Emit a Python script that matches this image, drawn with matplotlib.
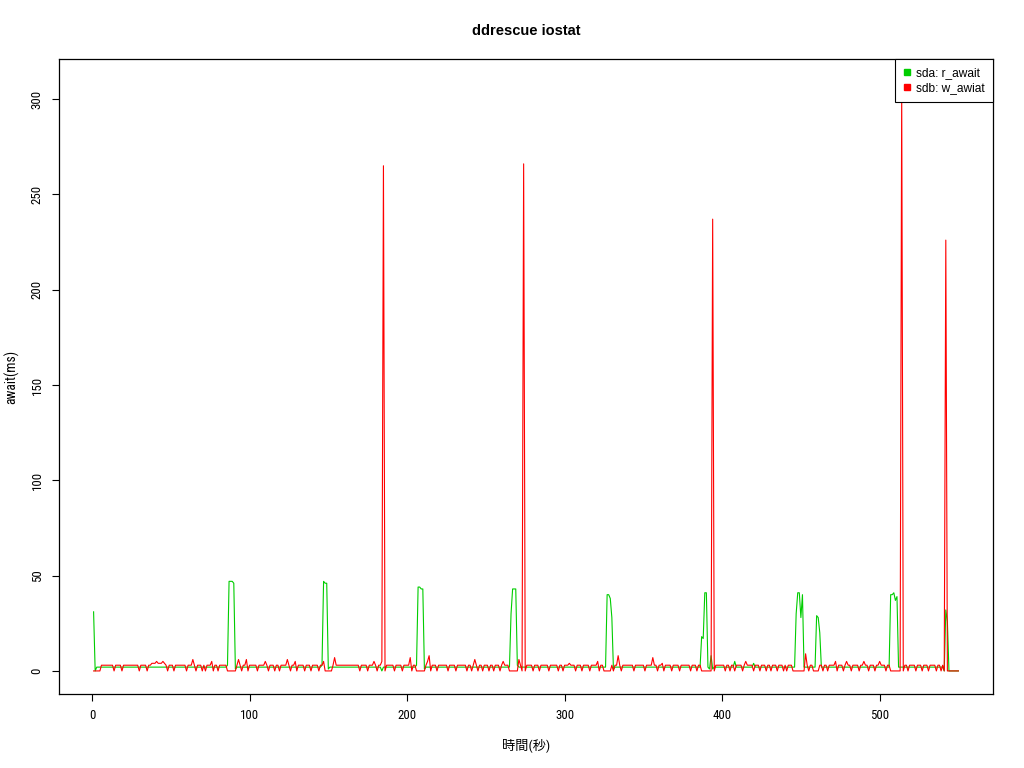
import matplotlib
matplotlib.use("Agg")
import matplotlib.pyplot as plt
from matplotlib import font_manager
from matplotlib.lines import Line2D

# ---------------- data (one value per second, t = 1..550) ----------------
sdb_w_await = [
    0, 0, 0, 0, 0, 3, 3, 3, 3, 3,
    3, 3, 3, 0, 3, 3, 3, 3, 0, 3,
    3, 3, 3, 3, 3, 3, 3, 3, 3, 0,
    3, 3, 3, 3, 0, 3, 3, 4, 4, 4,
    5, 4, 4, 4, 5, 4, 3, 0, 3, 3,
    3, 0, 3, 3, 3, 3, 3, 3, 3, 0,
    3, 3, 3, 6, 3, 0, 3, 3, 3, 0,
    3, 0, 3, 3, 3, 5, 0, 3, 3, 0,
    3, 3, 3, 3, 3, 0, 0, 0, 0, 0,
    0, 3, 6, 3, 0, 3, 3, 6, 0, 3,
    3, 3, 3, 3, 0, 3, 3, 3, 3, 5,
    3, 0, 3, 3, 3, 0, 3, 3, 0, 3,
    3, 3, 3, 6, 3, 0, 3, 3, 5, 0,
    3, 3, 3, 3, 0, 3, 3, 3, 0, 3,
    3, 3, 3, 0, 3, 3, 5, 0, 0, 0,
    0, 0, 3, 7, 3, 3, 3, 3, 3, 3,
    3, 3, 3, 3, 3, 3, 3, 3, 3, 0,
    3, 3, 3, 3, 0, 3, 3, 3, 5, 3,
    0, 3, 3, 5, 265, 0, 3, 3, 3, 3,
    3, 0, 3, 3, 3, 3, 0, 3, 3, 3,
    3, 7, 0, 3, 3, 0, 0, 0, 0, 0,
    0, 3, 5, 8, 0, 3, 3, 3, 0, 3,
    3, 3, 3, 3, 3, 0, 3, 3, 3, 3,
    0, 3, 3, 3, 3, 3, 3, 0, 3, 3,
    0, 3, 6, 3, 0, 3, 3, 0, 3, 3,
    3, 0, 3, 3, 0, 3, 3, 3, 0, 3,
    5, 3, 3, 3, 0, 0, 0, 0, 0, 0,
    6, 3, 0, 266, 0, 3, 3, 3, 3, 0,
    3, 3, 3, 0, 3, 3, 3, 3, 3, 0,
    3, 3, 3, 3, 3, 0, 3, 3, 0, 3,
    3, 3, 4, 3, 3, 3, 0, 3, 3, 3,
    0, 3, 3, 3, 3, 0, 3, 3, 3, 3,
    5, 0, 3, 3, 0, 0, 0, 0, 0, 3,
    0, 3, 3, 8, 3, 0, 3, 3, 3, 3,
    3, 3, 3, 0, 3, 3, 3, 3, 3, 3,
    0, 3, 3, 3, 3, 7, 3, 3, 0, 3,
    3, 4, 0, 3, 3, 3, 3, 0, 3, 3,
    3, 3, 0, 3, 3, 3, 3, 3, 3, 0,
    3, 3, 3, 0, 3, 3, 0, 0, 0, 0,
    0, 0, 0, 237, 0, 3, 3, 3, 3, 3,
    3, 0, 3, 3, 0, 3, 3, 0, 3, 3,
    3, 3, 0, 3, 5, 3, 3, 3, 3, 0,
    3, 3, 3, 0, 3, 3, 3, 0, 3, 3,
    0, 3, 3, 3, 0, 3, 3, 3, 0, 3,
    0, 3, 3, 3, 0, 0, 0, 0, 0, 0,
    0, 0, 9, 3, 0, 3, 3, 0, 0, 0,
    0, 3, 3, 0, 3, 3, 0, 3, 3, 3,
    3, 5, 0, 3, 3, 3, 0, 3, 5, 3,
    3, 0, 3, 3, 3, 3, 0, 3, 3, 5,
    3, 3, 0, 3, 3, 3, 0, 3, 3, 5,
    3, 3, 3, 0, 3, 3, 0, 0, 0, 0,
    0, 0, 0, 305, 0, 3, 3, 0, 3, 3,
    3, 3, 0, 3, 3, 3, 0, 3, 3, 3,
    0, 3, 3, 3, 3, 0, 3, 3, 0, 3,
    0, 226, 0, 0, 0, 0, 0, 0, 0, 0,
]

sda_r_await = [
    31, 0, 2, 2, 2, 2, 2, 2, 2, 2,
    2, 2, 2, 2, 2, 2, 2, 2, 2, 2,
    2, 2, 2, 2, 2, 2, 2, 2, 2, 2,
    2, 2, 2, 2, 2, 2, 2, 2, 2, 2,
    2, 2, 2, 2, 2, 2, 2, 2, 2, 2,
    2, 2, 2, 2, 2, 2, 2, 2, 2, 2,
    2, 2, 2, 2, 2, 2, 2, 2, 2, 2,
    2, 2, 2, 2, 2, 2, 2, 2, 2, 2,
    2, 2, 2, 2, 2, 3, 47, 47, 47, 46,
    1, 2, 2, 2, 2, 2, 2, 2, 2, 2,
    2, 2, 2, 2, 2, 2, 2, 2, 2, 2,
    2, 2, 2, 2, 2, 2, 2, 2, 2, 2,
    2, 2, 2, 2, 2, 2, 2, 2, 2, 2,
    2, 2, 2, 2, 2, 2, 2, 2, 2, 2,
    2, 2, 2, 2, 2, 3, 47, 46, 46, 1,
    2, 2, 2, 2, 2, 2, 2, 2, 2, 2,
    2, 2, 2, 2, 2, 2, 2, 2, 2, 2,
    2, 2, 2, 2, 2, 2, 2, 2, 2, 2,
    2, 2, 2, 0, 2, 2, 2, 2, 2, 2,
    2, 2, 2, 2, 2, 2, 2, 2, 2, 2,
    2, 2, 2, 2, 2, 3, 44, 44, 43, 43,
    1, 2, 2, 2, 2, 2, 2, 2, 2, 2,
    2, 2, 2, 2, 2, 2, 2, 2, 2, 2,
    2, 2, 2, 2, 2, 2, 2, 2, 2, 2,
    2, 2, 2, 2, 2, 2, 2, 2, 2, 2,
    2, 2, 2, 2, 2, 2, 2, 2, 2, 2,
    2, 2, 2, 2, 2, 30, 43, 43, 43, 3,
    2, 2, 2, 2, 2, 2, 2, 2, 2, 2,
    2, 2, 2, 2, 2, 2, 2, 2, 2, 2,
    2, 2, 2, 2, 2, 2, 2, 2, 2, 2,
    2, 2, 2, 2, 2, 2, 2, 2, 2, 2,
    2, 2, 2, 2, 2, 2, 2, 2, 2, 2,
    2, 2, 2, 2, 2, 2, 40, 40, 38, 28,
    1, 2, 2, 2, 2, 2, 2, 2, 2, 2,
    2, 2, 2, 2, 2, 2, 2, 2, 2, 2,
    2, 2, 2, 2, 2, 2, 2, 2, 2, 2,
    2, 2, 2, 2, 2, 2, 2, 2, 2, 2,
    2, 2, 2, 2, 2, 2, 2, 2, 2, 2,
    2, 2, 2, 2, 2, 2, 18, 17, 41, 41,
    2, 1, 8, 1, 2, 2, 2, 2, 2, 2,
    2, 2, 2, 2, 2, 2, 2, 5, 2, 2,
    2, 2, 2, 2, 2, 2, 2, 2, 2, 4,
    2, 2, 2, 2, 2, 2, 2, 2, 2, 2,
    2, 2, 2, 2, 2, 2, 2, 2, 2, 2,
    2, 2, 2, 2, 2, 2, 30, 41, 41, 28,
    40, 2, 2, 2, 2, 2, 2, 2, 2, 29,
    28, 20, 2, 2, 2, 2, 2, 2, 2, 2,
    2, 2, 2, 2, 2, 2, 2, 2, 2, 2,
    2, 2, 2, 2, 2, 2, 2, 2, 2, 2,
    2, 2, 2, 2, 2, 2, 2, 2, 2, 2,
    2, 2, 2, 2, 2, 2, 40, 40, 41, 37,
    39, 2, 2, 2, 2, 2, 2, 2, 2, 2,
    2, 2, 2, 2, 2, 2, 2, 2, 2, 2,
    2, 2, 2, 2, 2, 2, 2, 2, 2, 2,
    0, 32, 26, 0, 0, 0, 0, 0, 0, 0,
]

seconds = list(range(1, len(sda_r_await) + 1))
series_labels = ["sda: r_await", "sdb: w_awiat"]
x_ticks = [0, 100, 200, 300, 400, 500]
y_ticks = [0, 50, 100, 150, 200, 250, 300]

# ---------------- fonts ----------------
fonts = font_manager.fontManager.ttflist
names = {f.name for f in fonts}
narrow_candidates = [f.name for f in fonts
                     if ("Narrow" in f.name or "Condensed" in f.name)]
narrow = None
for cand in ["Liberation Sans Narrow", "DejaVu Sans Condensed", "Roboto Condensed",
             "Open Sans Condensed"]:
    if cand in names:
        narrow = cand
        break
if narrow is None and narrow_candidates:
    narrow = narrow_candidates[0]
condensed_dejavu = any(f.name == "DejaVu Sans" and str(f.stretch) in ("condensed", "semi-condensed")
                       for f in fonts)
sans = "Liberation Sans" if "Liberation Sans" in names else "DejaVu Sans"
if narrow is None:
    narrow = "DejaVu Sans" if condensed_dejavu else sans
narrow_stretch = "condensed" if narrow == "DejaVu Sans" else "normal"
plt.rcParams["font.family"] = [sans, "Noto Sans CJK JP", "DejaVu Sans"]

GREEN = "#00CD00"
RED = "#FF0000"

fig = plt.figure(figsize=(10.24, 7.68), dpi=100)
ax = fig.add_axes([59 / 1024, (768 - 694) / 768, (993 - 59) / 1024, (694 - 59) / 768])

ax.plot(seconds, sda_r_await, color=GREEN, lw=0.8)
ax.plot(seconds, sdb_w_await, color=RED, lw=0.8)

xmin, xmax = min(seconds), max(seconds)
pad = 0.04 * (xmax - xmin)
ax.set_xlim(xmin - pad, xmax + pad)
ax.set_ylim(-12.1, 321)

tick_font = dict(family=[narrow, "DejaVu Sans"], fontsize=9.3, fontstretch=narrow_stretch)
ax.set_xticks(x_ticks)
ax.set_yticks(y_ticks)
ax.set_xticklabels([str(v) for v in x_ticks], **tick_font)
ax.set_yticklabels([str(v) for v in y_ticks], rotation=90, va="center", **tick_font)
ax.tick_params(direction="out", length=5, width=0.8, color="black", pad=6)
for s in ax.spines.values():
    s.set_linewidth(0.9)
    s.set_color("black")

ax.set_title("ddrescue iostat", fontsize=10.5, fontweight="bold", pad=17.5,
             family=[sans, "DejaVu Sans"])
ax.set_xlabel("時間(秒)", family=[narrow, "Noto Sans CJK JP", "DejaVu Sans"], fontsize=9.5,
              fontstretch=narrow_stretch, labelpad=11.5)
ax.set_ylabel("await(ms)", family=[narrow, "DejaVu Sans"], fontsize=9.8,
              fontstretch=narrow_stretch, labelpad=8.5)

handles = [
    Line2D([], [], linestyle="none", marker="s", markersize=4, color=GREEN),
    Line2D([], [], linestyle="none", marker="s", markersize=4, color=RED),
]
leg = ax.legend(handles, series_labels, loc="upper right", borderaxespad=0,
                fancybox=False, framealpha=1, edgecolor="black",
                handlelength=0.7, handletextpad=0.45, borderpad=0.65, labelspacing=0.3,
                prop={"family": [sans, "DejaVu Sans"], "size": 8.6})
leg.get_frame().set_linewidth(0.8)

fig.savefig("out.png", dpi=100)
